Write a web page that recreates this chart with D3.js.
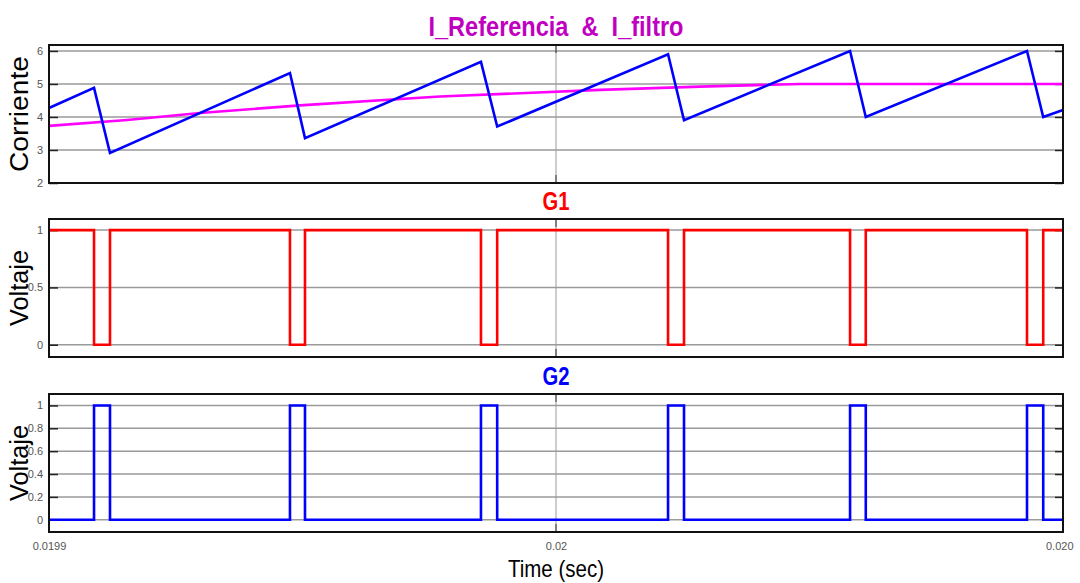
<!DOCTYPE html>
<html lang="en">
<head>
<meta charset="UTF-8"/>
<title>I_Referencia & I_filtro</title>
<script src="https://d3js.org/d3.v7.min.js"></script>
<style>
  body { margin: 0; background: #fff; }
  text { font-family: "Liberation Sans Narrow", "Liberation Sans", Arial, sans-serif; white-space: pre; }
</style>
</head>
<body>
<script>
var w = 1080;
var h = 583;

// time in seconds
var tStart = 0.0199, tEnd = 0.0201;
// switching instants (peak of current -> G1 off, trough -> G1 on)
var tOff = [0.01990888, 0.01994753, 0.01998520, 0.02002210, 0.02005800, 0.02009290];
var tOn  = [0.01991203, 0.01995049, 0.01998840, 0.02002525, 0.02006110, 0.02009610];
// inductor current at the switching instants
var iPeak   = [4.88, 5.33, 5.67, 5.90, 6.00, 6.00];
var iTrough = [2.91, 3.36, 3.71, 3.90, 4.00, 4.00];
var iStartVal = 4.27, iEndVal = 4.21;

// filtered reference current
var refT = [0.0199, 0.01991540, 0.01992980, 0.01994950, 0.01997710, 0.01999290, 0.02000870, 0.02002840, 0.02004810, 0.0201];
var refI = [3.73, 3.91, 4.12, 4.35, 4.62, 4.72, 4.82, 4.92, 5.00, 5.00];

var xTickVals = [0.0199, 0.02, 0.0201];
var xTickLabels = ["0.0199", "0.02", "0.020"];

var ticks1 = [2, 3, 4, 5, 6];
var ticks2 = [0, 0.5, 1];
var ticks3 = [0, 0.2, 0.4, 0.6, 0.8, 1];

// build series
var iData = [[tStart, iStartVal]];
tOff.forEach(function (t, k) {
    iData.push([t, iPeak[k]]);
    iData.push([tOn[k], iTrough[k]]);
});
iData.push([tEnd, iEndVal]);

var refData = refT.map(function (t, k) { return [t, refI[k]]; });

var g1Data = [[tStart, 1]];
var g2Data = [[tStart, 0]];
tOff.forEach(function (t, k) {
    g1Data.push([t, 0]);
    g1Data.push([tOn[k], 1]);
    g2Data.push([t, 1]);
    g2Data.push([tOn[k], 0]);
});
g1Data.push([tEnd, 1]);
g2Data.push([tEnd, 0]);

var left = 49, right = 1063;
var x = d3.scaleLinear().domain([tStart, tEnd]).range([left, right]);

var svg = d3.select("body").append("svg")
    .attr("width", w)
    .attr("height", h);

var panels = [
    { top: 45, bottom: 183, domain: [2, 6.18], ticks: ticks1, fmt: d3.format("d"),
      title: "I_Referencia  &  I_filtro", titleColor: "#c000c0", titleW: 255, titleSize: 28,
      ylabel: "Corriente", ylabelW: 116,
      series: [{ d: refData, c: "#ff00ff", step: false }, { d: iData, c: "#0000ff", step: false }] },
    { top: 219, bottom: 357, domain: [-0.107, 1.097], ticks: ticks2, fmt: function (v) { return v === 0.5 ? "0.5" : String(v); },
      title: "G1", titleColor: "#ff0000", titleW: 27, titleSize: 25,
      ylabel: "Voltaje", ylabelW: 76,
      series: [{ d: g1Data, c: "#ff0000", step: true }] },
    { top: 394, bottom: 532, domain: [-0.107, 1.1], ticks: ticks3, fmt: function (v) { return String(+v.toFixed(1)); },
      title: "G2", titleColor: "#0000ff", titleW: 27, titleSize: 25,
      ylabel: "Voltaje", ylabelW: 76,
      series: [{ d: g2Data, c: "#0000ff", step: true }] }
];

panels.forEach(function (p, pi) {
    var y = d3.scaleLinear().domain(p.domain).range([p.bottom, p.top]);
    var g = svg.append("g");

    // horizontal grid
    g.selectAll("line.grid")
        .data(p.ticks)
        .enter().append("line")
        .attr("x1", left).attr("x2", right)
        .attr("y1", function (d) { return y(d); })
        .attr("y2", function (d) { return y(d); })
        .attr("stroke", "#9a9a9a")
        .attr("stroke-width", 1.5);

    // vertical grid at 0.02
    g.append("line")
        .attr("x1", x(0.02)).attr("x2", x(0.02))
        .attr("y1", p.top).attr("y2", p.bottom)
        .attr("stroke", "#9a9a9a")
        .attr("stroke-width", 1);
    g.append("line")
        .attr("x1", x(0.02)).attr("x2", x(0.02))
        .attr("y1", p.top).attr("y2", p.top + 8)
        .attr("stroke", "#333").attr("stroke-width", 1);
    g.append("line")
        .attr("x1", x(0.02)).attr("x2", x(0.02))
        .attr("y1", p.bottom - 8).attr("y2", p.bottom)
        .attr("stroke", "#333").attr("stroke-width", 1);

    // left axis
    var yAxis = d3.axisLeft(y).tickValues(p.ticks).tickSize(-9).tickPadding(-1).tickFormat(p.fmt);
    var ga = g.append("g").attr("transform", "translate(" + left + ",0)").call(yAxis);
    ga.select(".domain").remove();
    ga.selectAll(".tick line").attr("stroke", "#222").attr("stroke-width", 1.5);
    ga.selectAll(".tick text")
        .attr("x", -6)
        .attr("fill", "#555")
        .style("font-size", "11px");

    // right axis ticks
    var yAxisR = d3.axisRight(y).tickValues(p.ticks).tickSize(-8).tickFormat("");
    var gr = g.append("g").attr("transform", "translate(" + right + ",0)").call(yAxisR);
    gr.select(".domain").remove();
    gr.selectAll(".tick line").attr("stroke", "#222").attr("stroke-width", 1.5);

    // lines
    var line = d3.line()
        .x(function (d) { return x(d[0]); })
        .y(function (d) { return y(d[1]); });
    p.series.forEach(function (s) {
        g.append("path")
            .datum(s.d)
            .attr("d", s.step ? line.curve(d3.curveStepAfter)(s.d) : line.curve(d3.curveLinear)(s.d))
            .attr("fill", "none")
            .attr("stroke", s.c)
            .attr("stroke-width", 2.6);
    });

    // frame
    g.append("rect")
        .attr("x", left).attr("y", p.top)
        .attr("width", right - left).attr("height", p.bottom - p.top)
        .attr("fill", "none")
        .attr("stroke", "#111")
        .attr("stroke-width", 2);

    // title
    svg.append("text")
        .attr("x", x(0.02) - p.titleW / 2)
        .attr("y", p.top - 9)
        .attr("fill", p.titleColor)
        .attr("font-weight", "bold")
        .attr("textLength", p.titleW)
        .attr("lengthAdjust", "spacingAndGlyphs")
        .style("font-size", p.titleSize + "px")
        .text(p.title);

    // y label
    svg.append("text")
        .attr("transform", "translate(28," + ((p.top + p.bottom) / 2 + p.ylabelW / 2) + ") rotate(-90)")
        .attr("fill", "#000")
        .attr("textLength", p.ylabelW)
        .attr("lengthAdjust", "spacingAndGlyphs")
        .style("font-size", "25px")
        .text(p.ylabel);
});

// x tick labels under last panel
var xAxis = d3.axisBottom(x).tickValues(xTickVals).tickSize(0).tickPadding(10)
    .tickFormat(function (d, i) { return xTickLabels[i]; });
var gx = svg.append("g").attr("transform", "translate(0,532)").call(xAxis);
gx.select(".domain").remove();
gx.selectAll(".tick text").attr("fill", "#555").style("font-size", "11px");
gx.selectAll(".tick text").filter(function (d, i) { return i === 2; })
    .attr("text-anchor", "end").attr("dx", 10);

svg.append("text")
    .attr("x", x(0.02) - 48)
    .attr("y", 577)
    .attr("fill", "#000")
    .attr("textLength", 96)
    .attr("lengthAdjust", "spacingAndGlyphs")
    .style("font-size", "24px")
    .text("Time (sec)");
</script>
</body>
</html>
